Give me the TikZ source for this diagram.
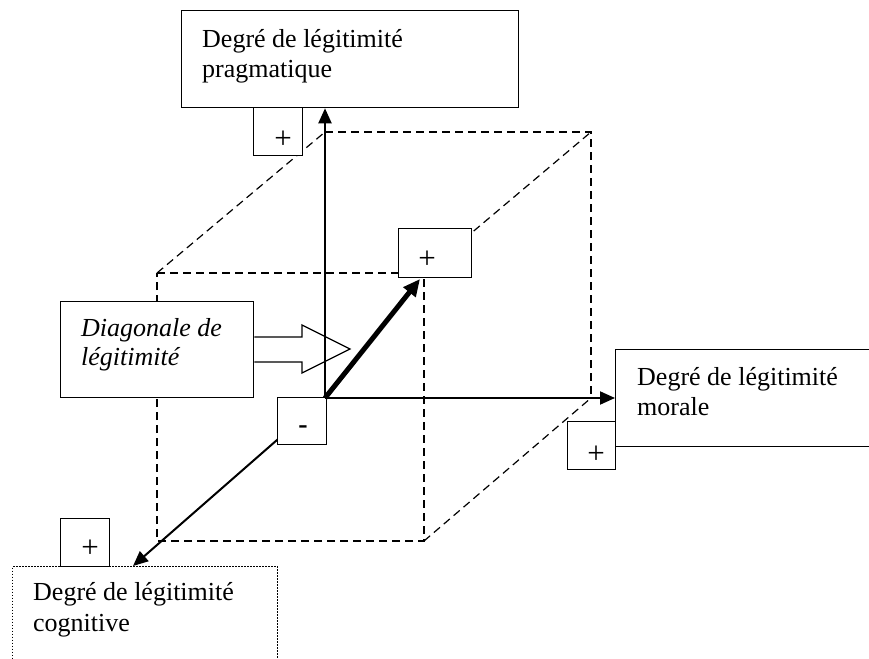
\documentclass[tikz,border=0pt]{standalone}
\usepackage{fontspec}
\setmainfont{Liberation Serif}
\usetikzlibrary{arrows.meta,calc}
\begin{document}
\begin{tikzpicture}[x=1pt,y=-1pt,
  box/.style={draw, line width=1.3pt, fill=white, inner sep=0pt, anchor=north west},
  lbl/.style={anchor=base west, inner sep=0pt, font=\fontsize{26}{30}\selectfont},
  sign/.style={inner sep=0pt, font=\fontsize{31}{34}\selectfont},
  cube/.style={line width=1.2pt, dash pattern=on 8pt off 5pt},
  axis/.style={line width=2pt, -{Triangle[length=15pt,width=13pt]}},
  diagaxis/.style={line width=5pt, -{Triangle[length=17pt,width=15pt]}},
  dottedbox/.style={draw, line width=1.3pt, dash pattern=on 1.3pt off 1.7pt, fill=white, inner sep=0pt, anchor=north west},
]
\useasboundingbox (0,0) rectangle (869,658);
\clip (0,0) rectangle (869,658);

% cube corners
\coordinate (O) at (325,398);
\coordinate (Bt) at (325,132);
\coordinate (Btr) at (591,132);
\coordinate (Bbr) at (591,398);
\coordinate (Ftl) at (157,273);
\coordinate (Ftr) at (424,273);
\coordinate (Fbr) at (424,541);
\coordinate (Fbl) at (157,541);

% dashed cube edges
\draw[cube] (Ftl) -- (Ftr) -- (Fbr) -- (Fbl) -- cycle;
\draw[cube] (Bt) -- (Btr) -- (Bbr);
\draw[cube] (Ftl) -- (Bt);
\draw[cube] (Ftr) -- (Btr);
\draw[cube] (Fbr) -- (Bbr);

% boxes
\node[box, minimum width=337pt, minimum height=97pt] (prag) at (181,10) {};
\node[lbl] (pragt1) at (202,48) {Degré de légitimité};
\node[lbl] (pragt2) at (202,78) {pragmatique};

\node[box, minimum width=300pt, minimum height=97pt] (mor) at (615,349) {};
\node[lbl] (mort1) at (637,385) {Degré de légitimité};
\node[lbl] (mort2) at (637,415) {morale};

\node[dottedbox, minimum width=265pt, minimum height=120pt] (cog) at (12,566) {};
\node[lbl] (cogt1) at (33,600) {Degré de légitimité};
\node[lbl] (cogt2) at (33,631) {cognitive};

\node[box, minimum width=193pt, minimum height=96pt] (diag) at (60,301) {};
\node[lbl, font=\fontsize{26}{30}\selectfont\itshape] (diagt1) at (81,336) {Diagonale de};
\node[lbl, font=\fontsize{26}{30}\selectfont\itshape] (diagt2) at (81,365) {légitimité};

% block arrow
\draw[line width=1.3pt] (diag.east |- 0,337) -- (302,337) -- (302,325) -- (350,349)
  -- (302,373) -- (302,362) -- (diag.east |- 0,362);

% axes
\coordinate (Cend) at (133,566);
\draw[axis] (O) -- (Cend);
\node[box, minimum width=49pt, minimum height=47pt] (minus) at (277,397) {};
\node[sign, font=\fontsize{28}{30}\selectfont\bfseries] (minust) at (303,430) {-};

\draw[axis] (O) -- (O |- prag.south);
\draw[axis] (O) -- (O -| mor.west);

\node[box, minimum width=73pt, minimum height=49pt] (dplus) at (398,228) {};
\node[sign] (dplust) at (427,260) {+};
\coordinate (Dend) at (420,279);
\draw[diagaxis] (O) -- (Dend);

% plus boxes
\node[box, minimum width=49pt, minimum height=48pt] (pplus) at (253,107) {};
\node[sign] (pplust) at (283,140) {+};
\node[box, minimum width=48pt, minimum height=48pt] (mplus) at (567,421) {};
\node[sign] (mplust) at (596,455) {+};
\node[box, minimum width=49pt, minimum height=48pt] (cplus) at (60,518) {};
\node[sign] (cplust) at (90,549) {+};
\end{tikzpicture}
\end{document}
